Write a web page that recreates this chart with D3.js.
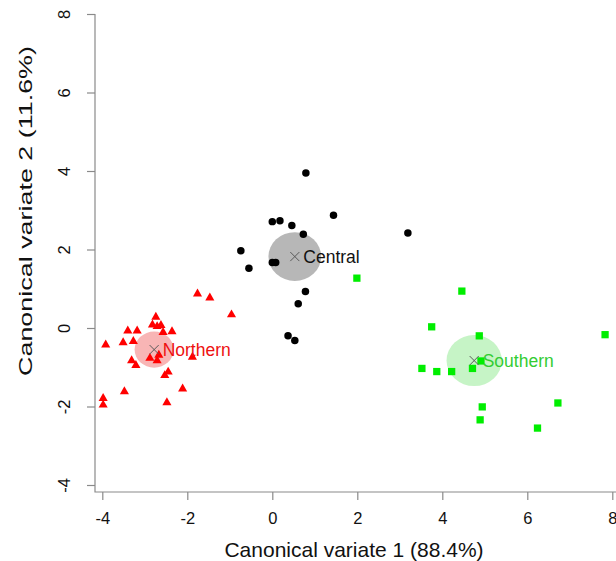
<!DOCTYPE html>
<html>
<head>
<meta charset="utf-8">
<script src="https://cdn.jsdelivr.net/npm/d3@7"></script>
<style>
  html, body { margin: 0; padding: 0; background: #fff; }
  svg { display: block; font-family: "Liberation Sans", Arial, sans-serif; }
</style>
</head>
<body>
<div class="chart"></div>
<script>
// 数据：典型变量得分
const northernCV1 = [-1.76, -1.47, -0.96, -2.74, -2.82, -2.71, -2.62, -3.40, -3.18, -2.57, -2.36, -3.92, -3.51,
  -3.27, -1.88, -2.88, -2.67, -2.71, -3.31, -3.21, -2.45, -2.53, -2.11, -3.48, -3.98, -3.98, -2.48];
const northernCV2 = [0.87, 0.77, 0.34, 0.28, 0.08, 0.04, 0.07, -0.07, -0.07, -0.11, -0.09, -0.43, -0.37,
  -0.34, -0.74, -0.77, -0.69, -0.83, -0.83, -0.95, -1.12, -1.21, -1.55, -1.62, -1.79, -1.96, -1.90];

const centralCV1 = [0.79, 1.44, 0.00, 0.18, 0.46, 3.19, 0.73, -0.74, -0.55, 0.00, 0.08, 0.78, 0.61, 0.37, 0.53];
const centralCV2 = [3.95, 2.87, 2.71, 2.73, 2.61, 2.42, 2.39, 1.97, 1.52, 1.67, 1.67, 0.93, 0.62, -0.20, -0.32];

const southernCV1 = [1.99, 4.46, 3.75, 4.87, 7.83, 4.91, 4.71, 3.52, 3.87, 4.22, 4.94, 6.72, 4.89, 6.24];
const southernCV2 = [1.27, 0.94, 0.03, -0.20, -0.17, -0.84, -1.03, -1.03, -1.11, -1.11, -2.01, -1.91, -2.34, -2.55];

// 组均值及置信圆半径
const groupNames = ['Northern', 'Central', 'Southern'];
const centroidCV1 = [-2.78, 0.53, 4.75];
const centroidCV2 = [-0.55, 1.82, -0.83];
const circleRadius = [0.46, 0.62, 0.65];

const xTicks = [-4, -2, 0, 2, 4, 6, 8];
const yTicks = [-4, -2, 0, 2, 4, 6, 8];
const xTitle = 'Canonical variate 1 (88.4%)';
const yTitle = 'Canonical variate 2 (11.6%)';

// 样式
const pointColor = ['#ff0000', '#000000', '#00ee00'];
const circleColor = ['#f8b5b5', '#b7b7b7', '#c6f4c6'];
const labelColor = ['#ee1111', '#111111', '#33cc33'];
const pointSymbol = [d3.symbolTriangle, d3.symbolCircle, d3.symbolSquare];
const pointSize = [36, 44, 53];

const width = 616, height = 561;
const axisColor = '#8a8a8a';

let x = d3.scaleLinear().domain([-4, 8]).range([102.3, 612.3]);
let y = d3.scaleLinear().domain([-4, 8]).range([485, 14]);

let svg = d3.select('.chart')
  .append('svg')
  .attr('width', width)
  .attr('height', height);

let groups = [
  { cv1: northernCV1, cv2: northernCV2 },
  { cv1: centralCV1, cv2: centralCV2 },
  { cv1: southernCV1, cv2: southernCV2 }
].map((g, i) => ({
  name: groupNames[i],
  i: i,
  points: g.cv1.map((v, k) => [v, g.cv2[k]]),
  cx: centroidCV1[i],
  cy: centroidCV2[i],
  r: circleRadius[i]
}));

// 置信圆
svg.append('g')
  .selectAll('ellipse')
  .data(groups)
  .enter()
  .append('ellipse')
  .attr('cx', d => x(d.cx))
  .attr('cy', d => y(d.cy))
  .attr('rx', d => x(d.r) - x(0))
  .attr('ry', d => y(0) - y(d.r))
  .attr('fill', d => circleColor[d.i]);

// 散点
groups.forEach(g => {
  svg.append('g')
    .selectAll('path')
    .data(g.points)
    .enter()
    .append('path')
    .attr('transform', d => 'translate(' + x(d[0]) + ',' + y(d[1]) + ')')
    .attr('d', d3.symbol().type(pointSymbol[g.i]).size(pointSize[g.i]))
    .attr('fill', pointColor[g.i]);
});

// 均值标记 x
svg.append('g')
  .selectAll('path')
  .data(groups)
  .enter()
  .append('path')
  .attr('transform', d => 'translate(' + x(d.cx) + ',' + y(d.cy) + ')')
  .attr('d', d3.symbol().type(d3.symbolX).size(55))
  .attr('fill', 'none')
  .attr('stroke', '#5a5a5a')
  .attr('stroke-width', 1);

// 组名
svg.append('g')
  .selectAll('text')
  .data(groups)
  .enter()
  .append('text')
  .attr('x', d => x(d.cx) + 8.5)
  .attr('y', d => y(d.cy) + 6.3)
  .style('font-size', '17.5px')
  .attr('fill', d => labelColor[d.i])
  .text(d => d.name);

// 坐标轴（刻度标签用普通连字符）
let xAxis = svg.append('g')
  .attr('transform', 'translate(0,492)')
  .call(d3.axisBottom(x).tickValues(xTicks).tickSize(8).tickFormat(d => String(d)));
xAxis.select('.domain').remove();
xAxis.selectAll('line').attr('stroke', axisColor).attr('stroke-width', 1.2);
xAxis.selectAll('text')
  .attr('y', 32)
  .attr('dy', 0)
  .style('font-size', '16.5px')
  .style('font-family', '"Liberation Sans", Arial, sans-serif')
  .attr('fill', '#111');

let yAxis = svg.append('g')
  .attr('transform', 'translate(95,0)')
  .call(d3.axisLeft(y).tickValues(yTicks).tickSize(8).tickFormat(d => String(d)));
yAxis.select('.domain').remove();
yAxis.selectAll('line').attr('stroke', axisColor).attr('stroke-width', 1.2);
yAxis.selectAll('text')
  .attr('x', 0)
  .attr('y', -25)
  .attr('dy', 0)
  .attr('text-anchor', 'middle')
  .attr('transform', 'rotate(-90)')
  .style('font-size', '16.5px')
  .style('font-family', '"Liberation Sans", Arial, sans-serif')
  .attr('fill', '#111');

// L 形边框
svg.append('path')
  .attr('d', 'M95,14V492H616')
  .attr('fill', 'none')
  .attr('stroke', axisColor)
  .attr('stroke-width', 1.2);

// 轴标题
svg.append('text')
  .attr('x', 354)
  .attr('y', 557)
  .attr('text-anchor', 'middle')
  .style('font-size', '21px')
  .attr('fill', '#111')
  .text(xTitle);

svg.append('text')
  .attr('transform', 'translate(31.5,211) rotate(-90)')
  .attr('text-anchor', 'middle')
  .style('font-size', '19px')
  .attr('textLength', 330)
  .attr('lengthAdjust', 'spacingAndGlyphs')
  .attr('fill', '#111')
  .text(yTitle);
</script>
</body>
</html>
